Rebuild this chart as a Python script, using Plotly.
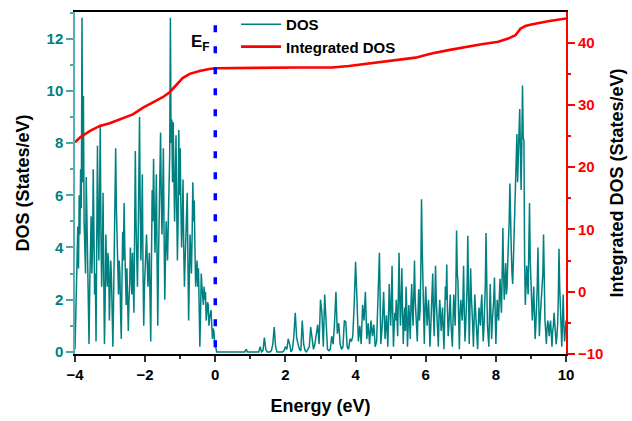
import plotly.graph_objects as go

# ---- data ----
# valence band: DOS every 0.02 eV from -4.00 to -0.02 eV
val_energy = [round(-4 + 0.02 * i, 2) for i in range(200)]
# gap / lower conduction band: every 0.04 eV from 0.00 to 4.96 eV
gap_energy = [round(0.04 * j, 2) for j in range(125)]
# upper conduction band: every 0.02 eV from 5.00 to 10.00 eV
up_energy = [round(5 + 0.02 * k, 2) for k in range(251)]

val_a = [0.1, 1.5, 3.0, 3.8, 4.8, 3.2, 6.0, 4.5, 7.0, 5.5, 12.8, 6.5, 9.8, 5.0, 4.2,
         3.0, 6.7, 4.8, 3.5, 1.8, 0.3, 2.5, 4.5, 5.2, 3.0]
val_b = [4.0, 7.0, 3.5, 2.2, 3.0, 0.4, 4.2, 7.9, 5.0, 3.5, 6.0, 8.7, 4.5, 2.5, 3.8,
         6.1, 2.8, 0.3, 2.0, 4.5, 3.2, 2.5, 3.8, 3.4, 1.2]
val_c = [2.5, 3.5, 2.8, 1.5, 0.2, 2.0, 3.5, 5.0, 7.8, 5.5, 4.0, 3.0, 2.2, 3.5, 3.0,
         1.5, 0.5, 2.8, 4.6, 3.5, 5.7, 4.0, 2.8, 1.8, 3.2]
val_d = [2.0, 0.8, 2.0, 2.6, 4.0, 3.0, 2.2, 3.8, 2.5, 1.5, 4.5, 7.7, 5.0, 3.5, 2.5,
         4.2, 6.0, 9.0, 5.5, 3.5, 4.8, 6.8, 3.0, 1.0, 2.5]
val_e = [3.0, 4.0, 4.5, 3.5, 2.5, 3.2, 3.8, 2.0, 0.4, 3.5, 6.2, 5.0, 7.4, 5.5, 3.8,
         5.0, 6.8, 3.5, 1.0, 3.5, 5.5, 6.5, 8.4, 6.0, 4.5]
val_f = [6.0, 7.8, 4.5, 2.0, 3.5, 5.0, 4.2, 3.5, 5.0, 6.5, 7.5, 12.8, 8.0, 8.9, 6.5,
         8.8, 6.0, 5.0, 6.5, 8.3, 5.5, 3.5, 5.0, 8.5, 6.0]
val_g = [7.8, 5.5, 4.0, 5.0, 6.6, 4.0, 2.5, 3.5, 4.8, 5.5, 6.1, 3.5, 1.2, 2.8, 4.5,
         3.8, 3.0, 4.5, 6.5, 5.0, 5.8, 4.0, 2.5, 3.0, 3.5]
val_h = [2.5, 3.2, 1.8, 0.2, 1.5, 3.0, 2.5, 2.2, 1.8, 2.5, 2.0, 2.3, 1.2, 1.5, 1.9,
         1.8, 1.0, 1.3, 1.6, 1.6, 1.0, 0.5, 0.9, 0.8, 0.4]

dos_0 = [0.2, 0, 0, 0, 0, 0, 0, 0, 0, 0, 0, 0, 0, 0, 0,
         0, 0, 0, 0, 0, 0, 0, 0.1, 0, 0]
dos_1 = [0, 0, 0, 0, 0, 0, 0, 0.2, 0, 0.05, 0.55, 0.1, 0, 0, 0,
         0.05, 0.3, 0.95, 0.2, 0, 0, 0, 0, 0, 0.05]
dos_2 = [0.2, 0.1, 0.5, 0.3, 0.0, 0.1, 0.6, 1.5, 0.55, 0.3, 0.1, 0.05, 1.2, 0.3, 0.05,
         0.0, 0.1, 0.2, 0.95, 0.4, 0.1, 0.3, 0.8, 1.05, 0.3]
dos_3 = [2.0, 1.5, 0.2, 2.2, 0.8, 0.1, 0.05, 0.1, 0.6, 0.3, 1.1, 2.3, 0.7, 1.1, 0.3,
         0.1, 0.2, 1.2, 1.15, 0.2, 0.1, 0.5, 0.4, 0.6, 1.8]
dos_4 = [3.45, 2.0, 0.4, 1.0, 0.3, 1.8, 1.2, 2.3, 0.5, 1.1, 0.3, 1.2, 0.6, 1.05, 0.2,
         0.4, 2.0, 3.8, 0.3, 1.0, 2.3, 0.5, 1.4, 0.2, 2.6]

up_5 = [1.0, 1.8, 3.3, 1.5, 0.2, 0.9, 1.5, 1.2, 2.0, 1.4, 0.6, 2.2, 3.8, 2.0, 1.0,
        2.0, 3.2, 1.5, 0.3, 1.2, 1.7, 0.8, 2.5, 1.6, 0.2, 1.0, 1.8, 1.2, 0.5, 1.8,
        2.6, 1.6, 1.0, 2.2, 3.5, 2.0, 1.5, 0.9, 0.4, 1.5, 2.4, 1.2, 1.6, 3.0, 5.85,
        4.0, 3.0, 1.5, 0.3, 1.6]
up_6 = [2.5, 1.8, 1.0, 1.5, 2.0, 1.2, 0.2, 0.8, 1.5, 2.2, 3.0, 1.5, 0.6, 1.8, 3.3,
        2.0, 1.2, 0.6, 0.2, 1.4, 2.0, 1.5, 0.8, 1.2, 1.7, 0.9, 0.1, 1.2, 2.5, 2.0,
        3.35, 1.6, 0.6, 1.0, 1.8, 2.2, 1.1, 0.5, 0.2, 1.3, 2.2, 1.6, 1.0, 2.5, 4.65,
        3.0, 2.7, 1.2, 0.1, 1.5]
up_7 = [2.0, 1.6, 1.2, 2.0, 3.3, 1.5, 0.4, 1.0, 1.5, 2.5, 4.45, 1.8, 0.3, 1.5, 3.2,
        2.2, 1.8, 1.0, 0.2, 1.2, 2.2, 1.6, 1.2, 0.6, 0.1, 1.0, 1.7, 1.3, 1.0, 1.8,
        2.2, 1.2, 0.4, 0.9, 1.5, 2.6, 4.55, 2.0, 1.0, 0.6, 0.2, 1.5, 2.6, 1.4, 0.5,
        1.2, 1.5, 2.0, 2.85, 1.5]
up_8 = [0.3, 1.2, 2.0, 1.5, 1.2, 2.2, 2.8, 2.0, 1.5, 3.0, 4.75, 3.0, 2.0, 2.8, 3.4,
        2.2, 2.5, 3.5, 4.2, 5.0, 6.45, 4.5, 3.9, 3.0, 2.6, 3.5, 4.5, 5.0, 5.5, 7.5,
        8.35, 6.5, 8.3, 8.4, 9.3, 7.0, 6.2, 8.0, 10.2, 8.2, 8.1, 3.5, 1.8, 2.5, 3.3,
        2.8, 2.2, 4.0, 5.7, 3.5]
up_9 = [2.7, 2.0, 1.2, 1.8, 2.5, 1.5, 0.5, 1.0, 1.6, 2.5, 4.0, 2.2, 0.6, 1.2, 1.8,
        2.2, 2.6, 3.0, 4.5, 2.5, 1.2, 0.8, 0.3, 0.9, 1.2, 1.0, 0.6, 1.0, 1.2, 0.7,
        0.2, 0.8, 1.0, 1.5, 1.2, 0.8, 0.3, 0.6, 1.0, 2.0, 3.95, 2.5, 1.5, 0.8, 0.2,
        1.2, 2.2, 1.0, 0.4, 0.8]
up_10 = [1.2]

energy = val_energy + gap_energy + up_energy
dos = (val_a + val_b + val_c + val_d + val_e + val_f + val_g + val_h
       + dos_0 + dos_1 + dos_2 + dos_3 + dos_4
       + up_5 + up_6 + up_7 + up_8 + up_9 + up_10)

# Integrated DOS read at points along the red curve
int_energy = [-4.0, -3.86, -3.57, -3.29, -3.01, -2.72, -2.35, -2.07, -1.78, -1.50,
              -1.30, -1.10, -0.93, -0.73, -0.45, -0.17, 0.0, 2.39, 3.33, 3.81,
              4.30, 4.75, 5.23, 5.71, 6.00, 6.17, 6.65, 7.14, 7.59, 8.07, 8.35,
              8.56, 8.70, 8.84, 9.01, 9.49, 9.95, 10.0]
int_dos = [24.0, 24.76, 25.83, 26.62, 27.03, 27.67, 28.46, 29.52, 30.32, 31.22,
           32.02, 33.22, 34.29, 34.97, 35.44, 35.76, 35.87, 36.0, 36.0, 36.24,
           36.56, 36.87, 37.19, 37.57, 37.98, 38.25, 38.78, 39.32, 39.73, 40.11, 40.63,
           41.16, 42.22, 42.65, 42.9, 43.43, 43.8, 43.85]

x_ticks = [-4, -2, 0, 2, 4, 6, 8, 10]
left_ticks = [0, 2, 4, 6, 8, 10, 12]
right_ticks = [-10, 0, 10, 20, 30, 40]

TEAL = "#008080"
RED = "#ff0000"
FONT = "Liberation Sans, Arial, sans-serif"

fig = go.Figure()
fig.add_trace(go.Scatter(x=energy, y=dos, mode="lines", name="DOS",
                         line=dict(color=TEAL, width=1.5), yaxis="y"))
fig.add_trace(go.Scatter(x=int_energy, y=int_dos, mode="lines", name="Integrated DOS",
                         line=dict(color=RED, width=2.6), yaxis="y2"))

fig.add_shape(type="line", xref="x", yref="paper", x0=0, x1=0, y0=0.02, y1=0.98,
              line=dict(color="#0000ff", width=3.5, dash="7px,14px"))

fig.add_annotation(x=-0.42, y=0.948, xref="x", yref="paper",
                   text="E<sub>F</sub>", showarrow=False,
                   font=dict(family=FONT, size=17, color="black", weight="bold"))

fig.update_layout(
    width=632, height=421,
    margin=dict(l=75, r=64, t=8, b=67),
    paper_bgcolor="white", plot_bgcolor="white",
    font=dict(family=FONT, size=15, color="black", weight="bold"),
    showlegend=True,
    legend=dict(x=0.328, y=1.012, xanchor="left", yanchor="top",
                bgcolor="rgba(0,0,0,0)", font=dict(size=15, color="black", weight="bold"),
                tracegroupgap=0, itemwidth=40),
    xaxis=dict(range=[-4, 10], tickvals=x_ticks, ticks="outside", ticklen=6,
               tickwidth=1.5, tickcolor="#333", showline=True, linecolor="black",
               linewidth=1.5, mirror=True, showgrid=False, zeroline=False,
               minor=dict(dtick=1, ticks="outside", ticklen=3, tickcolor="#333"),
               tickfont=dict(size=15, color="black", weight="bold"),
               title=dict(text="Energy (eV)", standoff=18,
                          font=dict(size=18, color="black", weight="bold"))),
    yaxis=dict(range=[-0.08, 13.02], tickvals=left_ticks, ticks="outside", ticklen=7,
               tickwidth=1.5, tickcolor="#4da6a6", showline=True, linecolor="#5aafaf",
               linewidth=1.5, showgrid=False, zeroline=False,
               minor=dict(dtick=1, ticks="outside", ticklen=3, tickcolor="#4da6a6"),
               tickfont=dict(size=15, color=TEAL, weight="bold"),
               title=dict(text="DOS (States/eV)", standoff=12,
                          font=dict(size=18, color="black", weight="bold"))),
    yaxis2=dict(range=[-10, 44.9], tickvals=right_ticks, overlaying="y", side="right",
                ticks="outside", ticklen=7, tickwidth=1.5, tickcolor=RED,
                showline=True, linecolor=RED, linewidth=2, showgrid=False,
                zeroline=False,
                minor=dict(dtick=5, ticks="outside", ticklen=3, tickcolor=RED),
                tickfont=dict(size=15, color=RED, weight="bold"),
                title=dict(text="Integrated DOS (States/eV)", standoff=8,
                           font=dict(size=18, color="black", weight="bold"))),
)

fig.write_html("out.html", config={"displayModeBar": False},
               post_script="document.body.style.margin='0';")
